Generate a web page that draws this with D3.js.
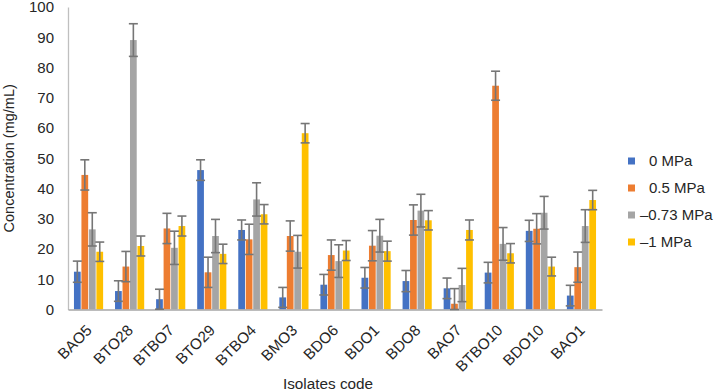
<!DOCTYPE html>
<html>
<head>
<meta charset="utf-8">
<script src="https://cdn.jsdelivr.net/npm/d3@7"></script>
<style>
  body { margin: 0; background: #fff; }
  svg text { font-family: "Liberation Sans", Arial, sans-serif; fill: #262626; }
</style>
</head>
<body>
<div class="chart"></div>
<script>
const isolates = ["BAO5", "BTO28", "BTBO7", "BTO29", "BTBO4", "BMO3", "BDO6", "BDO1", "BDO8", "BAO7", "BTBO10", "BDO10", "BAO1"];
const seriesNames = ["0 MPa", "0.5 MPa", "\u20130.73 MPa", "\u20131 MPa"];
const seriesColors = ["#4472c4", "#ed7d31", "#a5a5a5", "#ffc000"];

const mpa0 = [12.5, 6.1, 3.4, 46.1, 26.3, 4.0, 8.2, 10.5, 9.4, 7.0, 12.2, 26.0, 4.6];
const mpa05 = [44.5, 14.2, 26.8, 12.3, 23.2, 24.3, 18.0, 21.1, 29.6, 1.9, 74.0, 26.7, 14.0];
const mpa073 = [26.5, 89.1, 20.4, 24.3, 36.4, 19.1, 16.0, 24.4, 32.7, 8.1, 21.7, 32.0, 27.6];
const mpa1 = [19.1, 21.0, 27.6, 18.4, 31.5, 58.3, 19.5, 19.3, 29.5, 26.3, 18.6, 14.2, 36.2];

const err0 = [3.5, 3.4, 3.3, 3.4, 3.3, 3.3, 3.4, 3.4, 3.5, 3.4, 3.4, 3.5, 3.4];
const err05 = [5.0, 5.0, 5.0, 5.0, 5.0, 5.0, 5.0, 5.0, 5.0, 5.0, 4.8, 5.0, 5.0];
const err073 = [5.5, 5.4, 5.5, 5.5, 5.5, 5.4, 5.4, 5.4, 5.4, 5.5, 5.4, 5.4, 5.4];
const err1 = [3.2, 3.3, 3.3, 3.2, 3.2, 3.2, 3.3, 3.3, 3.2, 3.3, 3.2, 3.1, 3.2];

const yTicks = [0, 10, 20, 30, 40, 50, 60, 70, 80, 90, 100];

const values = [mpa0, mpa05, mpa073, mpa1];
const errors = [err0, err05, err073, err1];

const w = 718;
const h = 391;
const plotLeft = 68, plotRight = 602, plotTop = 7.1, plotBottom = 309.5;

const svg = d3.select(".chart").append("svg").attr("width", w).attr("height", h);

const x0 = d3.scaleBand().domain(isolates).range([plotLeft, plotRight]).paddingInner(0.29).paddingOuter(0.145);
const x1 = d3.scaleBand().domain(d3.range(4)).range([0, x0.bandwidth()]).paddingInner(0.1);
const y = d3.scaleLinear().domain([0, 100]).range([plotBottom, plotTop]);

// y axis
const yAxis = svg.append("g")
  .attr("transform", "translate(" + plotLeft + ",0)")
  .call(d3.axisLeft(y).tickValues(yTicks).tickSize(0).tickPadding(14));
yAxis.select(".domain").attr("stroke", "#bfbfbf").attr("stroke-width", 1.3);
yAxis.selectAll("text").style("font-size", "15px").style("font-family", "Liberation Sans, Arial").attr("fill", "#262626");

// bars
const rows = [];
isolates.forEach((c, i) => {
  values.forEach((s, j) => rows.push({ c: c, j: j, v: s[i], e: errors[j][i] }));
});

svg.append("g").selectAll("rect").data(rows).enter().append("rect")
  .attr("x", (d) => x0(d.c) + x1(d.j))
  .attr("y", (d) => y(d.v))
  .attr("width", x1.bandwidth())
  .attr("height", (d) => y(0) - y(d.v))
  .attr("fill", (d) => seriesColors[d.j]);

// x axis
const xAxis = svg.append("g")
  .attr("transform", "translate(0," + plotBottom + ")")
  .call(d3.axisBottom(x0).tickSize(0).tickSizeOuter(0).tickFormat(""));
xAxis.select(".domain").attr("stroke", "#a6a6a6").attr("stroke-width", 1.3);

svg.append("g").selectAll("text").data(isolates).enter().append("text")
  .attr("transform", (d) => "translate(" + (x0(d) + x0.bandwidth() / 2 + 0.5) + "," + (plotBottom + 18) + ") rotate(-45)")
  .attr("text-anchor", "end")
  .attr("dy", "0.35em")
  .style("font-size", "15.3px")
  .text((d) => d);

// error bars
const eb = svg.append("g").attr("stroke", "#767676").attr("stroke-width", 1.6);
rows.forEach((d) => {
  const cx = x0(d.c) + x1(d.j) + x1.bandwidth() / 2;
  const hi = y(d.v + d.e);
  const lo = y(Math.max(0, d.v - d.e));
  eb.append("line").attr("x1", cx).attr("x2", cx).attr("y1", hi).attr("y2", lo);
  eb.append("line").attr("x1", cx - 4.5).attr("x2", cx + 4.5).attr("y1", hi).attr("y2", hi);
  eb.append("line").attr("x1", cx - 4.5).attr("x2", cx + 4.5).attr("y1", lo).attr("y2", lo);
});

// axis titles
svg.append("text")
  .attr("transform", "translate(14," + (plotTop + plotBottom) / 2 + ") rotate(-90)")
  .attr("text-anchor", "middle")
  .style("font-size", "14.5px")
  .text("Concentration (mg/mL)");

svg.append("text")
  .attr("x", 328)
  .attr("y", 389)
  .attr("text-anchor", "middle")
  .style("font-size", "15.3px")
  .text("Isolates code");

// legend
const legend = svg.append("g");
seriesNames.forEach((name, j) => {
  const ly = 161 + j * 27;
  legend.append("rect").attr("x", 628).attr("y", ly - 3.5).attr("width", 7).attr("height", 7).attr("fill", seriesColors[j]);
  legend.append("text")
    .attr("x", name.startsWith("\u2013") ? 640 : 649)
    .attr("y", ly)
    .attr("dy", "0.35em")
    .style("font-size", "15px")
    .text(name);
});
</script>
</body>
</html>
